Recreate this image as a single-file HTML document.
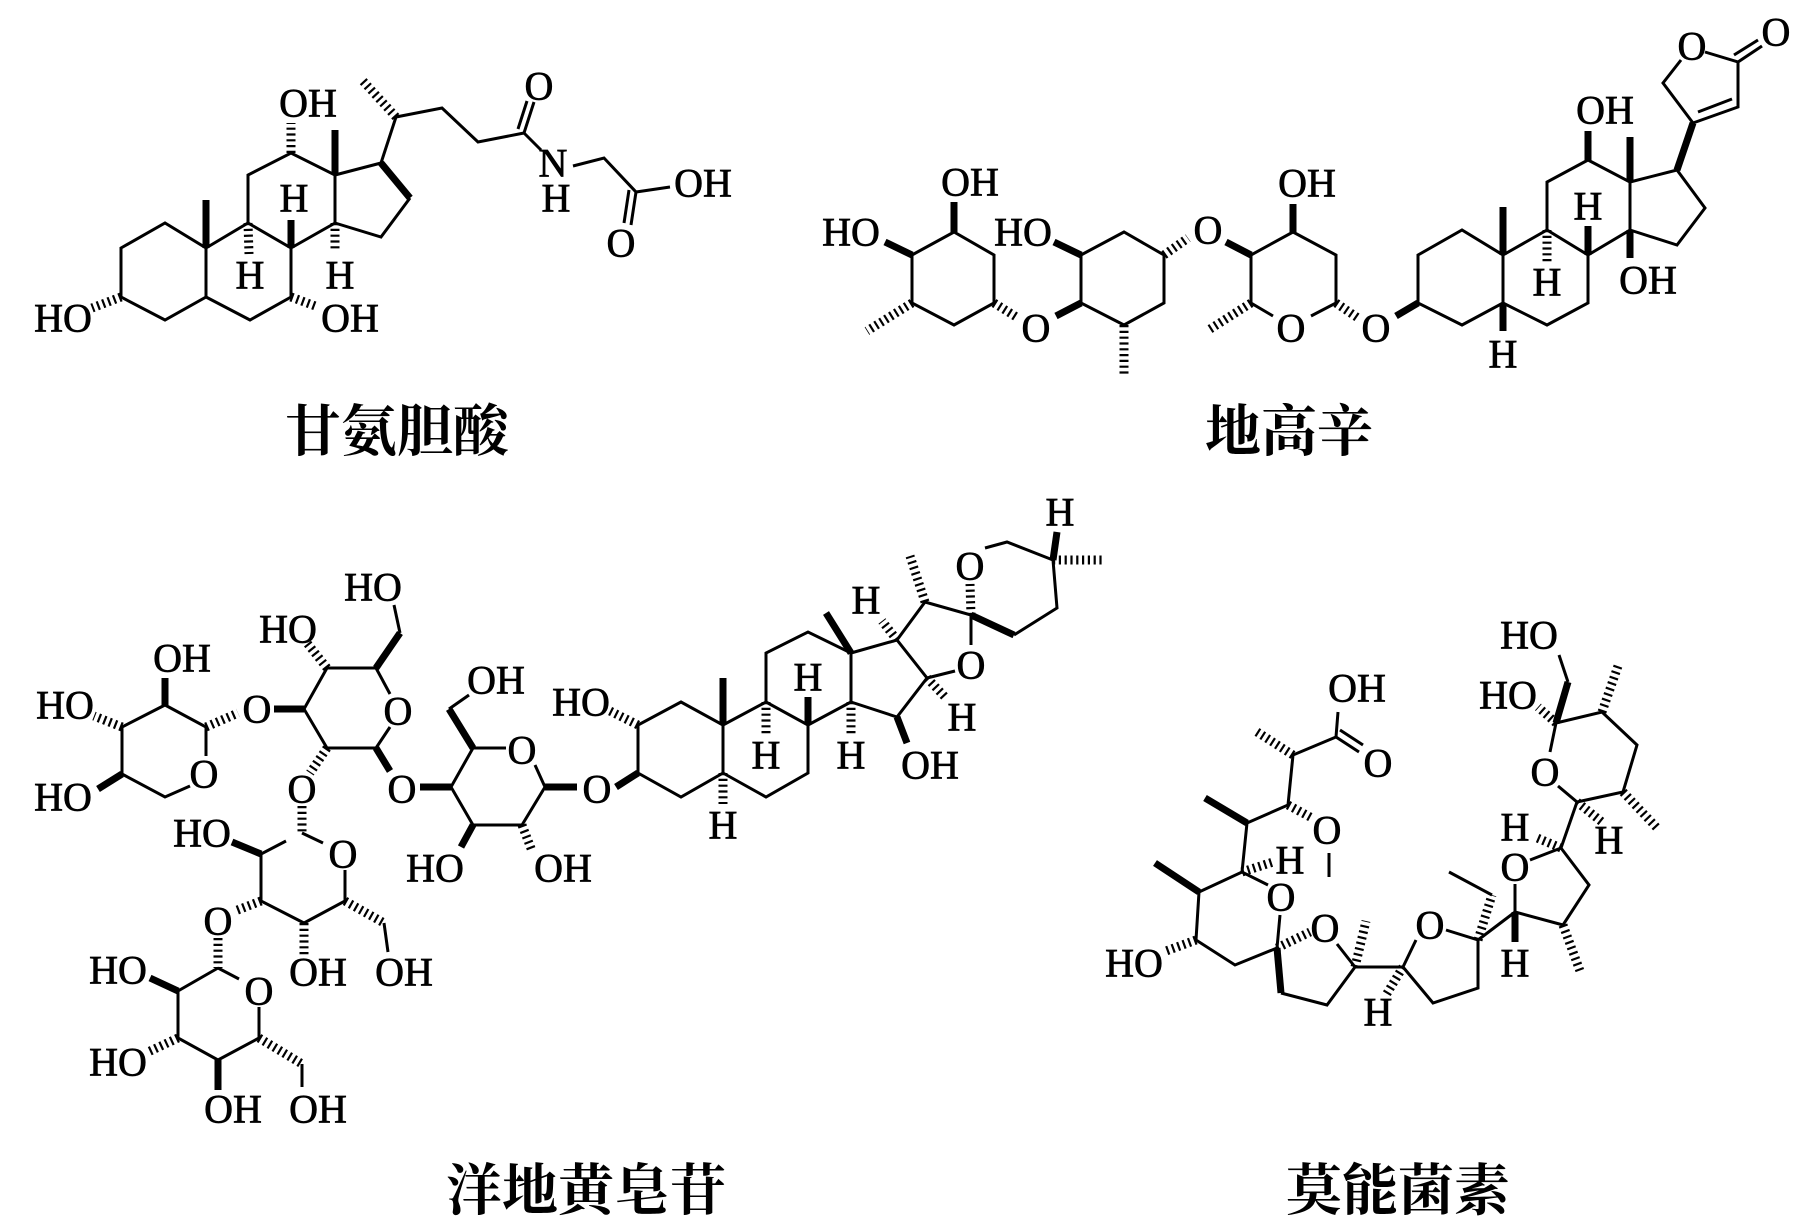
<!DOCTYPE html>
<html><head><meta charset="utf-8"><style>
html,body{margin:0;padding:0;background:#fff;}
svg{display:block;}
.b{fill:none;stroke:#000;stroke-width:3;stroke-linejoin:miter;stroke-linecap:butt;}
.w{stroke:#000;stroke-width:7;}
.h{stroke:#000;stroke-width:9;stroke-dasharray:2.2 3.6;}
text{font-family:"Liberation Serif",serif;font-size:40px;fill:#000;stroke:#000;stroke-width:0.7;text-anchor:middle;dominant-baseline:central;}
.cn{font-family:"Liberation Serif","Noto Serif CJK SC",serif;font-size:56px;font-weight:bold;stroke-width:0;}
</style></head><body>
<svg width="1819" height="1228" viewBox="0 0 1819 1228" xmlns="http://www.w3.org/2000/svg">
<rect width="1819" height="1228" fill="#fff"/>
<!-- ===== 甘氨胆酸 ===== -->
<g class="b">
<polygon points="121,248 165,223 206,248 206,297 165,320 121,297"/>
<polyline points="206,248 248,223 291,248 291,297 250,320 206,297"/>
<polyline points="248,223 248,175 291,153 335,175 335,223 291,248"/>
<polyline points="335,175 381,163"/>
<polyline points="410,198 381,237 335,223"/>
<line x1="381" y1="163" x2="396" y2="117"/>
<polyline points="396,117 442,108 478,142 524,133"/>
<line x1="524" y1="133" x2="534" y2="102"/><line x1="518" y1="129" x2="527" y2="101"/>
<line x1="524" y1="133" x2="541" y2="150"/>
<polyline points="573,166 604,158 636,192 670,187"/>
<line x1="636" y1="192" x2="631" y2="225"/><line x1="629" y1="190" x2="624" y2="223"/>
</g>
<line class="w" x1="381" y1="163" x2="410" y2="198"/>
<line class="h" x1="121" y1="297" x2="92" y2="308"/>
<line class="h" x1="291" y1="297" x2="318" y2="307"/>
<line class="w" x1="206" y1="248" x2="206" y2="200"/>
<line class="h" x1="248" y1="223" x2="249" y2="254"/>
<line class="w" x1="291" y1="248" x2="291" y2="220"/>
<line class="h" x1="291" y1="153" x2="291" y2="123"/>
<line class="w" x1="335" y1="175" x2="335" y2="130"/>
<line class="h" x1="335" y1="223" x2="335" y2="252"/>
<line class="h" x1="396" y1="117" x2="362" y2="80"/>
<text x="63" y="318">HO</text><text x="350" y="318">OH</text>
<text x="250" y="275">H</text><text x="294" y="198">H</text><text x="340" y="275">H</text>
<text x="308" y="103">OH</text>
<text x="539" y="86">O</text><text x="553" y="163">N</text><text x="556" y="198">H</text>
<text x="703" y="183">OH</text><text x="621" y="243">O</text>
<text class="cn" x="397" y="433">甘氨胆酸</text>

<!-- ===== 地高辛 ===== -->
<g class="b">
<polygon points="912,255 954,232 994,255 994,303 954,325 912,303"/>
<polygon points="1081,255 1124,232 1164,255 1164,303 1124,325 1081,303"/>
<polyline points="1273,316 1251,303 1251,255 1293,232 1336,255 1336,303 1311,316"/>
<polygon points="1418,255 1462,230 1503,255 1503,303 1462,325 1418,303"/>
<polyline points="1503,255 1547,230 1588,255 1588,303 1547,325 1503,303"/>
<polyline points="1547,230 1547,182 1588,160 1630,182 1630,230 1588,255"/>
<polyline points="1630,182 1677,170 1705,208 1677,245 1630,230"/>
<polyline points="1693,123 1663,83 1681,60"/>
<polyline points="1705,52 1738,62 1738,107 1693,123"/>
<line x1="1732" y1="99" x2="1698" y2="112"/>
<line x1="1738" y1="62" x2="1762" y2="46"/><line x1="1734" y1="55" x2="1758" y2="40"/>
</g>
<line class="w" x1="912" y1="255" x2="885" y2="242"/>
<line class="w" x1="954" y1="232" x2="954" y2="202"/>
<line class="h" x1="912" y1="303" x2="867" y2="331"/>
<line class="h" x1="994" y1="303" x2="1018" y2="318"/>
<line class="w" x1="1056" y1="316" x2="1081" y2="303"/>
<line class="w" x1="1081" y1="255" x2="1054" y2="242"/>
<line class="h" x1="1124" y1="325" x2="1124" y2="374"/>
<line class="h" x1="1164" y1="255" x2="1188" y2="238"/>
<line class="w" x1="1226" y1="242" x2="1251" y2="255"/>
<line class="w" x1="1293" y1="232" x2="1293" y2="204"/>
<line class="h" x1="1251" y1="303" x2="1207" y2="331"/>
<line class="h" x1="1336" y1="303" x2="1358" y2="318"/>
<line class="w" x1="1396" y1="316" x2="1418" y2="303"/>
<line class="w" x1="1503" y1="303" x2="1503" y2="331"/>
<line class="w" x1="1503" y1="255" x2="1503" y2="207"/>
<line class="h" x1="1547" y1="230" x2="1547" y2="262"/>
<line class="w" x1="1588" y1="255" x2="1588" y2="226"/>
<line class="w" x1="1588" y1="160" x2="1588" y2="131"/>
<line class="w" x1="1630" y1="182" x2="1630" y2="137"/>
<line class="w" x1="1630" y1="230" x2="1630" y2="258"/>
<line class="w" x1="1677" y1="170" x2="1693" y2="123"/>
<text x="851" y="232">HO</text><text x="970" y="182">OH</text><text x="1036" y="328">O</text>
<text x="1023" y="232">HO</text><text x="1208" y="230">O</text>
<text x="1307" y="183">OH</text><text x="1291" y="328">O</text><text x="1376" y="328">O</text>
<text x="1503" y="354">H</text><text x="1547" y="282">H</text><text x="1588" y="206">H</text>
<text x="1605" y="110">OH</text><text x="1648" y="280">OH</text>
<text x="1692" y="46">O</text><text x="1776" y="32">O</text>
<text class="cn" x="1289" y="433">地高辛</text>

<!-- ===== 洋地黄皂苷 ===== -->
<g class="b">
<polyline points="122,774 122,727 165,705 206,727 206,756"/>
<polyline points="190,786 165,797 122,774"/>
<polyline points="304,709 327,668 376,668 390,694"/>
<polyline points="390,727 376,748 327,748 304,709"/>
<polyline points="400,633 394,605"/>
<polyline points="286,841 261,854 261,901 304,923 345,901 345,870"/>
<line x1="323" y1="843" x2="302" y2="833"/>
<polyline points="239,979 218,968"/>
<polyline points="218,968 178,991 178,1038 218,1060 259,1038 259,1007"/>
<line x1="302" y1="1064" x2="302" y2="1087"/>
<line x1="384" y1="923" x2="388" y2="952"/>
<polyline points="506,748 473,748 451,787 473,825 522,825 545,787 535,765"/>
<line x1="449" y1="709" x2="469" y2="695"/>
<polygon points="638,773 638,725 681,702 723,725 723,773 681,797"/>
<polyline points="723,725 766,702 808,725 808,773 766,797 723,773"/>
<polyline points="766,702 766,653 808,632 851,653 851,702 808,725"/>
<polyline points="851,653 897,640 927,678 897,717 851,702"/>
<polyline points="897,640 925,602 971,615 971,645"/>
<line x1="955" y1="671" x2="927" y2="678"/>
<polyline points="985,548 1007,542 1053,560 1057,608 1014,635"/>
</g>
<line class="w" x1="165" y1="705" x2="165" y2="678"/>
<line class="h" x1="122" y1="727" x2="94" y2="716"/>
<line class="w" x1="122" y1="774" x2="98" y2="789"/>
<line class="h" x1="206" y1="727" x2="238" y2="713"/>
<line class="w" x1="274" y1="709" x2="304" y2="709"/>
<line class="h" x1="327" y1="668" x2="307" y2="643"/>
<line class="w" x1="376" y1="668" x2="400" y2="633"/>
<line class="w" x1="376" y1="748" x2="390" y2="771"/>
<line class="h" x1="327" y1="748" x2="310" y2="773"/>
<line class="h" x1="302" y1="806" x2="302" y2="834"/>
<line class="w" x1="261" y1="854" x2="232" y2="842"/>
<line class="h" x1="261" y1="901" x2="235" y2="911"/>
<line class="h" x1="304" y1="923" x2="304" y2="955"/>
<line class="h" x1="345" y1="901" x2="384" y2="923"/>
<line class="h" x1="218" y1="938" x2="218" y2="968"/>
<line class="w" x1="178" y1="991" x2="150" y2="978"/>
<line class="h" x1="178" y1="1038" x2="148" y2="1052"/>
<line class="w" x1="218" y1="1060" x2="218" y2="1090"/>
<line class="h" x1="259" y1="1038" x2="302" y2="1064"/>
<line class="w" x1="420" y1="787" x2="451" y2="787"/>
<line class="w" x1="473" y1="748" x2="449" y2="709"/>
<line class="w" x1="473" y1="825" x2="461" y2="847"/>
<line class="h" x1="522" y1="825" x2="532" y2="851"/>
<line class="w" x1="545" y1="787" x2="577" y2="787"/>
<line class="w" x1="616" y1="787" x2="638" y2="773"/>
<line class="h" x1="638" y1="725" x2="610" y2="711"/>
<line class="w" x1="723" y1="725" x2="723" y2="678"/>
<line class="h" x1="723" y1="773" x2="723" y2="804"/>
<line class="h" x1="766" y1="702" x2="766" y2="735"/>
<line class="w" x1="808" y1="725" x2="808" y2="697"/>
<line class="w" x1="851" y1="653" x2="826" y2="613"/>
<line class="h" x1="851" y1="702" x2="851" y2="735"/>
<line class="w" x1="897" y1="717" x2="907" y2="743"/>
<line class="h" x1="897" y1="640" x2="882" y2="621"/>
<line class="h" x1="927" y1="678" x2="945" y2="697"/>
<line class="h" x1="925" y1="602" x2="910" y2="556"/>
<line class="h" x1="971" y1="615" x2="970" y2="584"/>
<line class="w" x1="971" y1="615" x2="1014" y2="635"/>
<line class="w" x1="1053" y1="560" x2="1057" y2="532"/>
<line class="h" x1="1053" y1="560" x2="1102" y2="560"/>
<text x="182" y="658">OH</text><text x="65" y="705">HO</text><text x="63" y="797">HO</text>
<text x="257" y="709">O</text><text x="204" y="774">O</text>
<text x="288" y="629">HO</text><text x="373" y="587">HO</text><text x="398" y="711">O</text>
<text x="302" y="789">O</text><text x="402" y="789">O</text>
<text x="202" y="833">HO</text><text x="343" y="854">O</text><text x="218" y="921">O</text>
<text x="318" y="972">OH</text><text x="404" y="972">OH</text>
<text x="118" y="970">HO</text><text x="259" y="991">O</text><text x="118" y="1062">HO</text>
<text x="233" y="1109">OH</text><text x="318" y="1109">OH</text>
<text x="496" y="680">OH</text><text x="522" y="750">O</text>
<text x="435" y="868">HO</text><text x="563" y="868">OH</text><text x="597" y="789">O</text>
<text x="581" y="702">HO</text><text x="723" y="825">H</text><text x="766" y="755">H</text>
<text x="808" y="677">H</text><text x="851" y="755">H</text><text x="866" y="600">H</text>
<text x="930" y="765">OH</text><text x="962" y="717">H</text><text x="971" y="665">O</text>
<text x="970" y="566">O</text><text x="1060" y="512">H</text>
<text class="cn" x="586" y="1192">洋地黄皂苷</text>

<!-- ===== 莫能菌素 ===== -->
<g class="b">
<polyline points="1268,885 1242,872 1199,892 1196,940 1235,965 1277,948 1280,915"/>
<polyline points="1242,872 1247,823 1288,805 1293,755 1336,737 1338,712"/>
<line x1="1336" y1="737" x2="1359" y2="752"/><line x1="1340" y1="730" x2="1363" y2="745"/>
<line x1="1329" y1="853" x2="1329" y2="877"/>
<polyline points="1337,944 1355,967 1327,1005 1281,993"/>
<line x1="1355" y1="967" x2="1403" y2="967"/>
<polyline points="1416,940 1403,967 1433,1003 1478,988 1478,940 1446,930"/>
<line x1="1492" y1="895" x2="1449" y2="872"/>
<line x1="1478" y1="940" x2="1515" y2="912"/>
<polyline points="1515,884 1515,912 1563,925 1589,885 1561,848 1530,860"/>
<line x1="1561" y1="848" x2="1577" y2="802"/>
<polyline points="1577,802 1623,792 1637,745 1602,712 1556,723 1550,752"/>
<line x1="1577" y1="802" x2="1558" y2="786"/>
<line x1="1568" y1="682" x2="1559" y2="655"/>
</g>
<line class="w" x1="1199" y1="892" x2="1155" y2="863"/>
<line class="h" x1="1196" y1="940" x2="1166" y2="951"/>
<line class="h" x1="1242" y1="872" x2="1273" y2="862"/>
<line class="w" x1="1247" y1="823" x2="1205" y2="798"/>
<line class="h" x1="1288" y1="805" x2="1312" y2="818"/>
<line class="h" x1="1293" y1="755" x2="1254" y2="730"/>
<line class="h" x1="1277" y1="948" x2="1310" y2="932"/>
<line class="w" x1="1277" y1="948" x2="1281" y2="993"/>
<line class="h" x1="1355" y1="967" x2="1366" y2="921"/>
<line class="h" x1="1403" y1="967" x2="1386" y2="995"/>
<line class="h" x1="1478" y1="940" x2="1492" y2="895"/>
<line class="w" x1="1515" y1="912" x2="1515" y2="942"/>
<line class="h" x1="1563" y1="925" x2="1580" y2="971"/>
<line class="h" x1="1561" y1="848" x2="1535" y2="837"/>
<line class="h" x1="1577" y1="802" x2="1602" y2="822"/>
<line class="h" x1="1623" y1="792" x2="1658" y2="829"/>
<line class="h" x1="1602" y1="712" x2="1618" y2="666"/>
<line class="h" x1="1556" y1="723" x2="1538" y2="707"/>
<line class="w" x1="1556" y1="723" x2="1568" y2="682"/>
<text x="1134" y="963">HO</text><text x="1281" y="897">O</text><text x="1290" y="860">H</text>
<text x="1327" y="830">O</text><text x="1357" y="688">OH</text><text x="1378" y="763">O</text>
<text x="1325" y="928">O</text><text x="1378" y="1012">H</text><text x="1430" y="925">O</text>
<text x="1515" y="963">H</text><text x="1515" y="867">O</text><text x="1515" y="827">H</text>
<text x="1609" y="840">H</text><text x="1545" y="772">O</text>
<text x="1508" y="695">HO</text><text x="1529" y="635">HO</text>
<text class="cn" x="1398" y="1192">莫能菌素</text>
</svg>
</body></html>
